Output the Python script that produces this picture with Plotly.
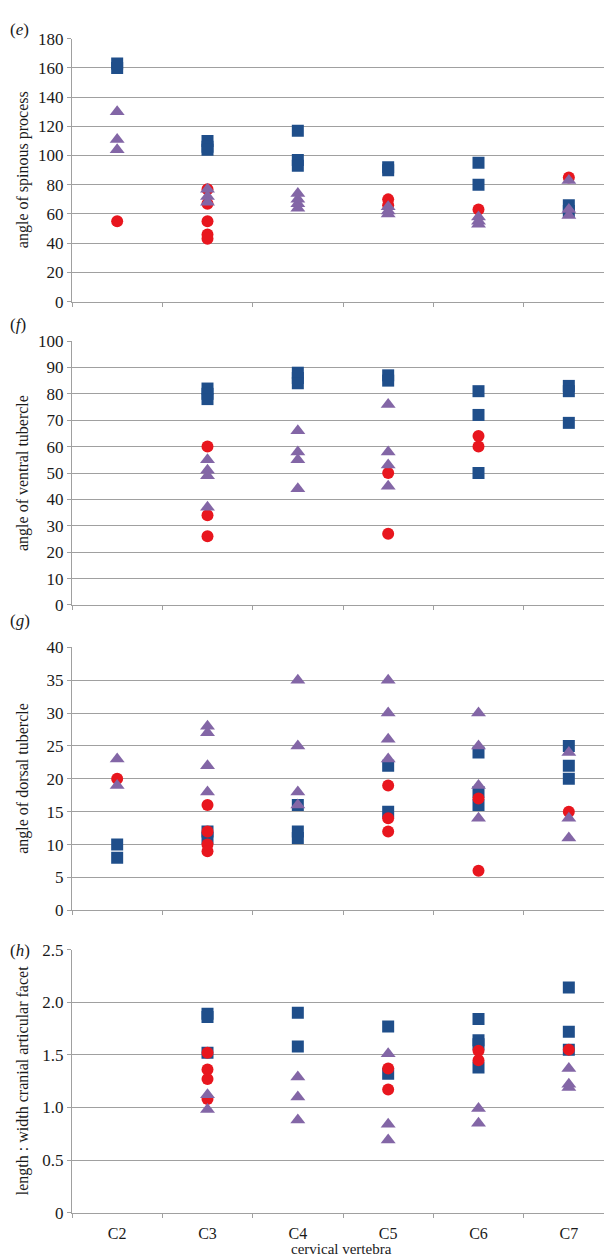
import plotly.graph_objects as go

W, H = 612, 1258
cats = ["C2", "C3", "C4", "C5", "C6", "C7"]

# ---- panel (e): angle of spinous process ----
e_blue_x = ["C2", "C2", "C3", "C3", "C3", "C4", "C4", "C4", "C5", "C5", "C6", "C6", "C7", "C7"]
e_blue_y = [160, 163, 110, 106, 104, 117, 97, 93, 92, 90, 95, 80, 66, 62]
e_red_x = ["C2", "C3", "C3", "C3", "C3", "C3", "C5", "C5", "C6", "C7"]
e_red_y = [55, 77, 67, 55, 46, 43, 70, 66, 63, 85]
e_pur_x = ["C2", "C2", "C2", "C3", "C3", "C3", "C4", "C4", "C4", "C4", "C5", "C5", "C5", "C6", "C6", "C6", "C7", "C7", "C7"]
e_pur_y = [130, 111, 104, 77, 72, 68, 74, 70, 67, 64, 65, 62, 60, 58, 55, 53, 83, 63, 59]

# ---- panel (f): angle of ventral tubercle ----
f_blue_x = ["C3", "C3", "C3", "C4", "C4", "C4", "C5", "C5", "C6", "C6", "C6", "C7", "C7", "C7"]
f_blue_y = [82, 80, 78, 88, 86, 84, 87, 85, 81, 72, 50, 83, 81, 69]
f_red_x = ["C3", "C3", "C3", "C5", "C5", "C6", "C6"]
f_red_y = [60, 34, 26, 50, 27, 64, 60]
f_pur_x = ["C3", "C3", "C3", "C3", "C4", "C4", "C4", "C4", "C5", "C5", "C5", "C5"]
f_pur_y = [55, 51, 49, 37, 66, 58, 55, 44, 76, 58, 53, 45]

# ---- panel (g): angle of dorsal tubercle ----
g_blue_x = ["C2", "C2", "C3", "C3", "C4", "C4", "C4", "C5", "C5", "C6", "C6", "C6", "C7", "C7", "C7"]
g_blue_y = [10, 8, 12, 11, 16, 12, 11, 22, 15, 24, 18, 16, 25, 22, 20]
g_red_x = ["C2", "C3", "C3", "C3", "C3", "C5", "C5", "C5", "C6", "C6", "C7"]
g_red_y = [20, 16, 12, 10, 9, 19, 14, 12, 17, 6, 15]
g_pur_x = ["C2", "C2", "C3", "C3", "C3", "C3", "C4", "C4", "C4", "C4", "C5", "C5", "C5", "C5",
           "C6", "C6", "C6", "C6", "C7", "C7", "C7"]
g_pur_y = [23, 19, 28, 27, 22, 18, 35, 25, 18, 16, 35, 30, 26, 23, 30, 25, 19, 14, 24, 14, 11]

# ---- panel (h): length : width cranial articular facet ----
h_blue_x = ["C3", "C3", "C3", "C4", "C4", "C5", "C5", "C6", "C6", "C6", "C6", "C7", "C7", "C7"]
h_blue_y = [1.89, 1.86, 1.52, 1.90, 1.58, 1.77, 1.32, 1.84, 1.64, 1.60, 1.38, 2.14, 1.72, 1.55]
h_red_x = ["C3", "C3", "C3", "C3", "C5", "C5", "C6", "C6", "C7"]
h_red_y = [1.52, 1.36, 1.27, 1.08, 1.37, 1.17, 1.54, 1.45, 1.55]
h_pur_x = ["C3", "C3", "C4", "C4", "C4", "C5", "C5", "C5", "C6", "C6", "C7", "C7", "C7"]
h_pur_y = [1.12, 0.98, 1.29, 1.10, 0.88, 1.51, 0.84, 0.69, 0.99, 0.85, 1.37, 1.22, 1.19]
h_tick_vals = [0, 0.5, 1.0, 1.5, 2.0, 2.5]
h_tick_text = ["0", "0.5", "1.0", "1.5", "2.0", "2.5"]

panels = [
    dict(label="e", title="angle of spinous process", rng=[0, 180], dtick=20, ticks=None,
         top=22, bottom=289, lab_y=13,
         data=[(e_blue_x, e_blue_y), (e_red_x, e_red_y), (e_pur_x, e_pur_y)]),
    dict(label="f", title="angle of ventral tubercle", rng=[0, 100], dtick=10, ticks=None,
         top=329, bottom=597, lab_y=312,
         data=[(f_blue_x, f_blue_y), (f_red_x, f_red_y), (f_pur_x, f_pur_y)]),
    dict(label="g", title="angle of dorsal tubercle", rng=[0, 40], dtick=5, ticks=None,
         top=640, bottom=907, lab_y=613,
         data=[(g_blue_x, g_blue_y), (g_red_x, g_red_y), (g_pur_x, g_pur_y)]),
    dict(label="h", title="length : width cranial articular facet", rng=[0, 2.5], dtick=0.5,
         ticks=(h_tick_vals, h_tick_text),
         top=947, bottom=1214, lab_y=948,
         data=[(h_blue_x, h_blue_y), (h_red_x, h_red_y), (h_pur_x, h_pur_y)]),
]

BLUE = "#1f4e8a"
RED = "#e8161e"
PURPLE = "#8366a6"
styles = [dict(symbol="square", color=BLUE, size=12),
          dict(symbol="circle", color=RED, size=12),
          dict(symbol="triangle-up", color=PURPLE, size=13)]

SERIF = "Liberation Serif"
GRID = "#a0a0a0"
TXT = "#1a1a1a"
x0, x1 = 64 / W, 606 / W

fig = go.Figure()
annotations = []
for i, p in enumerate(panels):
    n = i + 1
    xa = "x" if n == 1 else f"x{n}"
    ya = "y" if n == 1 else f"y{n}"
    for (xs, ys), st in zip(p["data"], styles):
        fig.add_trace(go.Scatter(
            x=xs, y=ys, mode="markers", xaxis=xa, yaxis=ya, showlegend=False,
            marker=dict(symbol=st["symbol"], color=st["color"], size=st["size"], line=dict(width=0)),
        ))
    yd = [1 - p["bottom"] / H, 1 - p["top"] / H]
    last = (n == len(panels))
    yax = dict(
        domain=yd, anchor=xa, range=p["rng"], ticks="outside", ticklen=4, tickcolor=GRID,
        showline=True, linecolor=GRID, linewidth=1, showgrid=True, gridcolor=GRID,
        gridwidth=1, zeroline=False,
        tickfont=dict(family=SERIF, size=17, color=TXT),
    )
    if p["ticks"] is None:
        yax.update(dtick=p["dtick"], tick0=0)
    else:
        yax.update(tickmode="array", tickvals=p["ticks"][0], ticktext=p["ticks"][1])
    fig.update_layout(**{
        f"xaxis{'' if n == 1 else n}": dict(
            domain=[x0, x1], anchor=ya, type="category", categoryorder="array",
            categoryarray=cats, range=[-0.5, 5.5], tickson="boundaries",
            ticks="outside", ticklen=4, tickcolor=GRID, showline=True, linecolor=GRID,
            linewidth=1, showgrid=False, zeroline=False, showticklabels=last,
            ticklabelstandoff=6,
            tickfont=dict(family=SERIF, size=16, color=TXT),
        ),
        f"yaxis{'' if n == 1 else n}": yax,
    })
    annotations.append(dict(
        text=p["title"], textangle=-90, x=15 / W, y=(yd[0] + yd[1]) / 2,
        xref="paper", yref="paper", showarrow=False, xanchor="center", yanchor="middle",
        font=dict(family=SERIF, size=16, color=TXT),
    ))
    annotations.append(dict(
        text=f"(<i>{p['label']}</i>)", x=0, y=1 - p["lab_y"] / H,
        xref="paper", yref="paper", showarrow=False, xanchor="left", yanchor="middle",
        font=dict(family=SERIF, size=17, color=TXT),
    ))

annotations.append(dict(
    text="cervical vertebra", x=334 / W, y=1 - 1251 / H, xref="paper", yref="paper",
    showarrow=False, xanchor="center", yanchor="middle",
    font=dict(family=SERIF, size=15, color=TXT),
))

fig.update_layout(
    width=W, height=H, margin=dict(l=0, r=0, t=0, b=0),
    paper_bgcolor="white", plot_bgcolor="white",
    font=dict(family=SERIF, color=TXT),
    annotations=annotations,
)

fig.write_html("out.html")
